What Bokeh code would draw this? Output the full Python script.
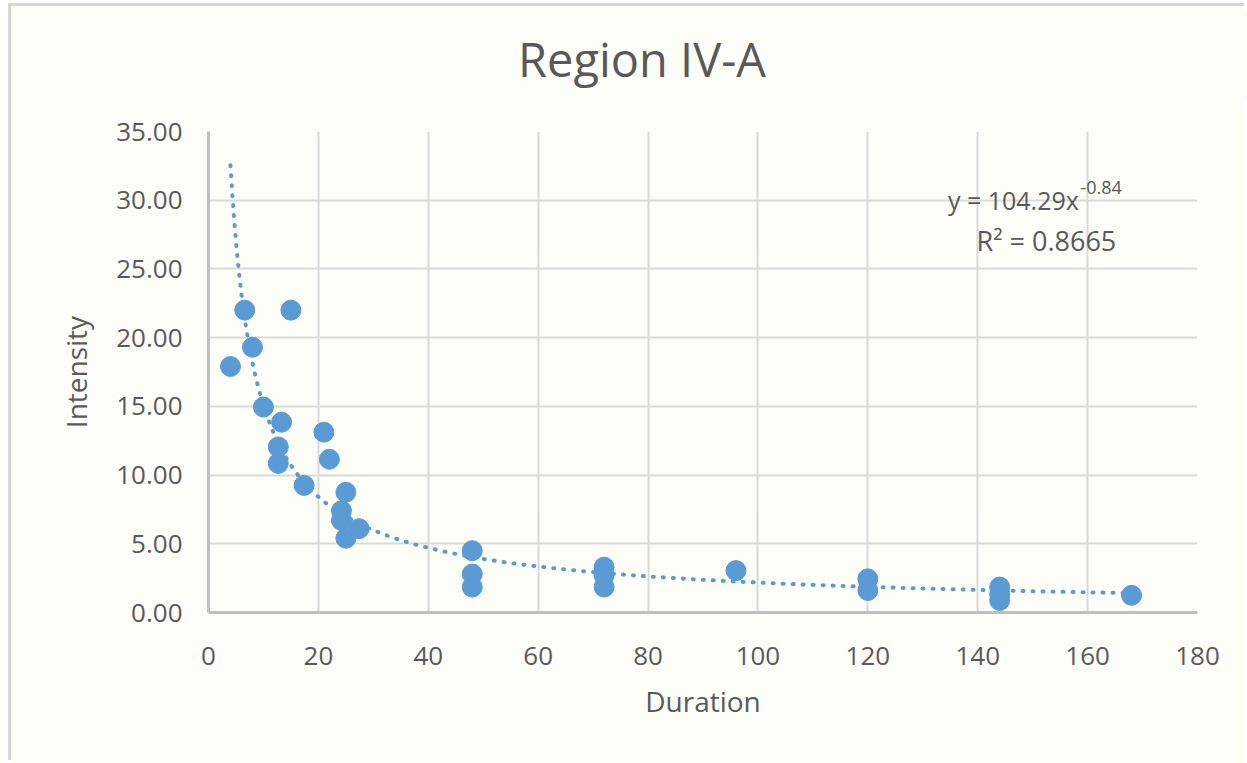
from bokeh.plotting import figure
from bokeh.models import ColumnDataSource, Label, Div
from bokeh.layouts import column
from bokeh.embed import file_html
from bokeh.resources import INLINE
import numpy as np

# Data
duration = [4, 6.6, 15, 8, 10, 13.3, 21, 22, 12.7, 12.7, 17.4, 25, 24.2, 24.2,
            27.4, 25, 48, 48, 48, 72, 72, 72, 96, 120, 120, 144, 144, 144, 168]
intensity = [17.9, 22.0, 22.0, 19.3, 14.95, 13.85, 13.12, 11.15, 12.05, 10.85, 9.25, 8.75, 7.4, 6.7,
             6.1, 5.4, 4.5, 2.8, 1.85, 3.3, 2.7, 1.85, 3.05, 2.45, 1.6, 1.85, 1.35, 0.87, 1.25]

# Power trendline as printed on the chart: y = 104.29 x^-0.84
coef_a = 104.29
coef_b = -0.84
r_squared = 0.8665
y_ticks = [0, 5, 10, 15, 20, 25, 30, 35]
x_ticks = [0, 20, 40, 60, 80, 100, 120, 140, 160, 180]
title_text = "Region IV-A"

BG = "#FEFEF9"
BLUE = "#5B9BD5"
TXT = "#595959"
GRID = "#D9D9D9"
FONT = "Open Sans"

# outer box offset 8px/3px with a 3px border; frame edges at x 208/1197, y 131/612
OFF_L, OFF_T, BW = 8, 3, 3
W = 1247 - OFF_L - BW
H = 763 - OFF_T - BW
TITLE_H = 90      # the div takes ~10px more than this in the rendered layout
TITLE_SPACE = 100
FIG_TOP = 131 - OFF_T - BW - TITLE_SPACE

title_div = Div(text=f'<div style="margin-left:502px;margin-top:18px;line-height:60px;'
                     f'font-family:\'{FONT}\';font-size:47px;color:{TXT};white-space:nowrap">{title_text}</div>',
                width=W, height=TITLE_H, styles={"background-color": BG})

p = figure(width=W, height=H - TITLE_SPACE, output_backend="svg", toolbar_location=None, title=None,
           x_range=(0, 180), y_range=(0, 35),
           min_border_left=208 - OFF_L - BW, min_border_right=47,
           min_border_top=FIG_TOP, min_border_bottom=151)
p.background_fill_color = BG
p.border_fill_color = BG
p.outline_line_color = None

src = ColumnDataSource(dict(x=duration, y=intensity))
tx = np.linspace(min(duration), max(duration), 400)
ty = coef_a * tx ** coef_b
p.line(tx, ty, line_color=BLUE, line_width=4, line_dash="1 9", line_cap="round")
p.scatter("x", "y", source=src, size=20, fill_color=BLUE, line_color=BLUE)

for ax in (p.xaxis[0], p.yaxis[0]):
    ax.major_tick_line_color = None
    ax.minor_tick_line_color = None
    ax.axis_line_color = "#BFBFBF"
    ax.axis_line_width = 3
    ax.major_label_text_font = FONT
    ax.major_label_text_font_size = "26px"
    ax.major_label_text_color = TXT
    ax.axis_label_text_font = FONT
    ax.axis_label_text_font_size = "28px"
    ax.axis_label_text_color = TXT
    ax.axis_label_text_font_style = "normal"

p.xaxis.ticker = x_ticks
p.yaxis.ticker = y_ticks
p.yaxis.major_label_overrides = {v: f"{v:.2f}" for v in y_ticks}
p.xaxis.axis_label = "Duration"
p.yaxis.axis_label = "Intensity"
p.xaxis.major_label_standoff = 28
p.yaxis.major_label_standoff = 20
p.xaxis.axis_label_standoff = 14
p.yaxis.axis_label_standoff = 18

p.xgrid.ticker = x_ticks
p.ygrid.ticker = y_ticks
p.grid.grid_line_color = GRID
p.grid.grid_line_width = 2

# Trendline equation
p.add_layout(Label(x=158.4, y=30.0, text="y = 104.29x", text_align="right", text_baseline="middle",
                   text_font=FONT, text_font_size="25px", text_color=TXT))
p.add_layout(Label(x=158.7, y=30.9, text=f"{coef_b:.2f}", text_align="left", text_baseline="middle",
                   text_font=FONT, text_font_size="18px", text_color=TXT))
p.add_layout(Label(x=152.5, y=27.07, text=f"R² = {r_squared}", text_align="center", text_baseline="middle",
                   text_font=FONT, text_font_size="27px", text_color=TXT))

page = column(title_div, p, width=W, height=H, spacing=0,
              styles={"background-color": BG,
                      "border-left": f"{BW}px solid #D6D6D6", "border-top": f"{BW}px solid #D6D6D6",
                      "margin-left": f"{OFF_L}px", "margin-top": f"{OFF_T}px"})

open("out.html", "w").write(file_html(page, INLINE))
